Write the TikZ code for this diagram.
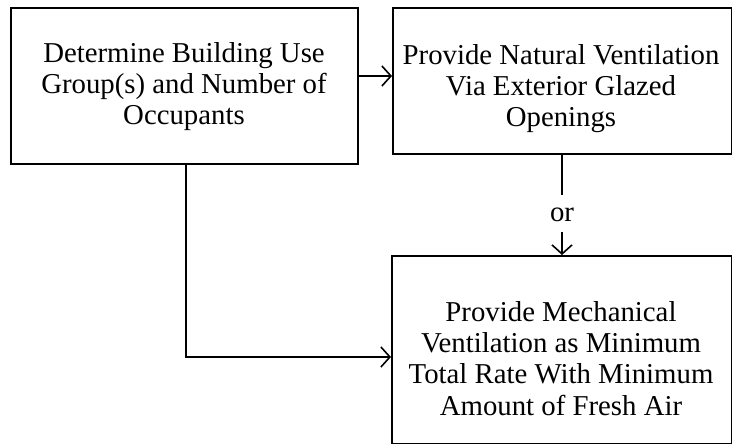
\documentclass[tikz,border=0pt]{standalone}
\usepackage{fontspec}
\setmainfont{Liberation Serif}
\usetikzlibrary{arrows.meta}
\begin{document}
\begin{tikzpicture}[x=1bp,y=-1bp,
  box/.style={draw, line width=1.6bp, inner sep=0pt, anchor=north west},
  label/.style={align=center, font=\fontsize{28.9}{31.2}\selectfont, inner sep=0pt},
  link/.style={line width=1.6bp, -{Straight Barb[length=9bp,width=20bp,line width=1.6bp]}},
  plain/.style={line width=1.6bp}]
  \useasboundingbox (0,0) rectangle (732,444);
  % boxes
  \node[box, minimum width=347bp, minimum height=156bp] (b1) at (10,7) {};
  \node[box, minimum width=339bp, minimum height=146bp] (b2) at (392,7) {};
  \node[box, minimum width=340bp, minimum height=188bp] (b3) at (391,255) {};
  % box texts, placed by the baseline of their last line
  \node[label, anchor=base] (t1) at (184,125) {Determine Building Use\\Group(s) and Number of\\Occupants};
  \node[label, anchor=base] (t2) at (561,127) {Provide Natural Ventilation\\Via Exterior Glazed\\Openings};
  \node[label, anchor=base] (t3) at (561,415) {Provide Mechanical\\Ventilation as Minimum\\Total Rate With Minimum\\Amount of Fresh Air};
  % "or" label between the right-hand boxes
  \node[inner sep=0pt, text height=27bp, text depth=10bp, anchor=base,
        font=\fontsize{28.9}{31.2}\selectfont] (or) at (562,222) {or};
  \coordinate (bend) at (186,357);
  % connectors
  \draw[link] (b1.east |- 0,76) -- (b2.west |- 0,76);
  \draw[plain] (b2.south -| or.north) -- (or.north);
  \draw[link] (or.south) -- (b3.north -| or.south);
  \draw[link] (b1.south -| bend) -- (bend) -- (b3.west |- bend);
\end{tikzpicture}
\end{document}
